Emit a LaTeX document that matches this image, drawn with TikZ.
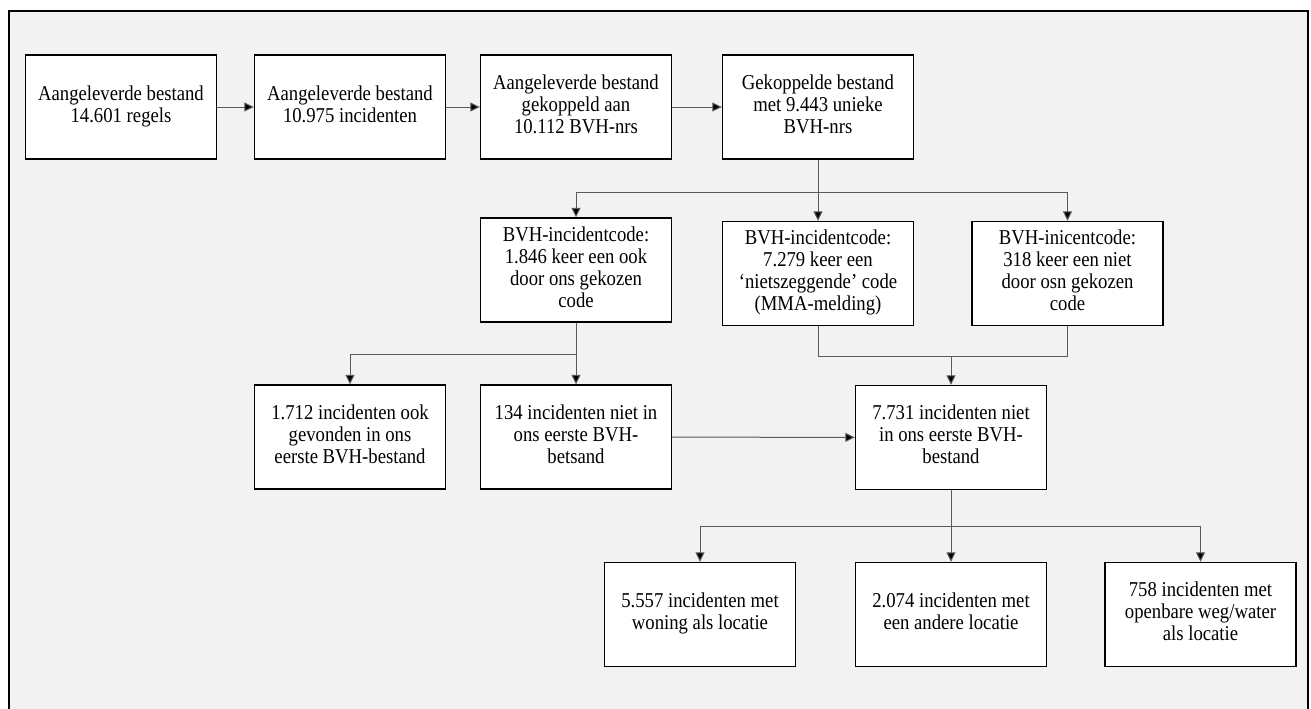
\documentclass[tikz,border=0pt]{standalone}
\usepackage{fontspec}
\setmainfont{Liberation Serif}
\usepackage{graphicx}
\usepackage{xcolor}
\usepackage{tikz}
\usetikzlibrary{arrows.meta,positioning}
\definecolor{panelgray}{HTML}{F2F2F2}
\definecolor{linegray}{HTML}{5A5A5A}
% text of a box, a little taller as in the scan
\newcommand{\boxlines}[1]{\scalebox{1}[1.13]{\begin{tabular}{@{}c@{}}#1\end{tabular}}}
\begin{document}
\begin{tikzpicture}[x=1pt,y=-1pt,
box/.style={draw,line width=1.4pt,fill=white,minimum width=191pt,minimum height=104pt,inner sep=0pt,align=center,font=\fontsize{18.7}{19.5}\selectfont},
line/.style={draw=linegray,line width=1pt},
arr/.style={line,-{Triangle[length=9.5pt,width=9pt,fill=black]}}]
\useasboundingbox (0,0) rectangle (1311,709);
\fill[panelgray] (9,11) rectangle (1308,712);
\draw[line width=2.4pt] (9,712) -- (9,11) -- (1308,11) -- (1308,712);
% top row
\node[box] (b1) at (121,107) {\boxlines{Aangeleverde bestand\\14.601 regels}};
\node[box] (b2) at (350,107) {\boxlines{Aangeleverde bestand\\10.975 incidenten}};
\node[box] (b3) at (576,107) {\boxlines{Aangeleverde bestand\\gekoppeld aan\\10.112 BVH-nrs}};
\node[box] (b4) at (818,107) {\boxlines{Gekoppelde bestand\\met 9.443 unieke\\BVH-nrs}};
\draw[arr] (b1)--(b2); \draw[arr] (b2)--(b3); \draw[arr] (b3)--(b4);
% incident codes
\node[box] (b5) at (576,270) {\boxlines{BVH-incidentcode:\\1.846 keer een ook\\door ons gekozen\\code}};
\node[box] (b6) at (818,273.5) {\boxlines{BVH-incidentcode:\\7.279 keer een\\‘nietszeggende’ code\\(MMA-melding)}};
\node[box] (b7) at (1067.5,273.5) {\boxlines{BVH-inicentcode:\\318 keer een niet\\door osn gekozen\\code}};
\coordinate (j1) at (818,192);
\draw[line] (b4)--(j1);
\draw[arr] (j1)-|(b5); \draw[arr] (j1)--(b6); \draw[arr] (j1)-|(b7);
% third row
\node[box] (b9) at (350,437) {\boxlines{1.712 incidenten ook\\gevonden in ons\\eerste BVH-bestand}};
\node[box] (b10) at (576,437) {\boxlines{134 incidenten niet in\\ons eerste BVH-\\betsand}};
\node[box] (b8) at (951,437.5) {\boxlines{7.731 incidenten niet\\in ons eerste BVH-\\bestand}};
\coordinate (j2) at (576,354);
\draw[line] (b5)--(j2);
\draw[arr] (j2)-|(b9); \draw[arr] (j2)--(b10);
\coordinate (j3) at (951,356);
\draw[line] (b6.south)|-(j3); \draw[line] (b7.south)|-(j3);
\draw[arr] (j3)--(b8);
\draw[arr] (b10)--(b8);
% locations
\node[box] (b11) at (700,614.5) {\boxlines{5.557 incidenten met\\woning als locatie}};
\node[box] (b12) at (951,614.5) {\boxlines{2.074 incidenten met\\een andere locatie}};
\node[box] (b13) at (1200.5,614.5) {\boxlines{758 incidenten met\\openbare weg/water\\als locatie}};
\coordinate (j4) at (951,526);
\draw[line] (b8)--(j4);
\draw[arr] (j4)-|(b11); \draw[arr] (j4)--(b12); \draw[arr] (j4)-|(b13);
\end{tikzpicture}
\end{document}
